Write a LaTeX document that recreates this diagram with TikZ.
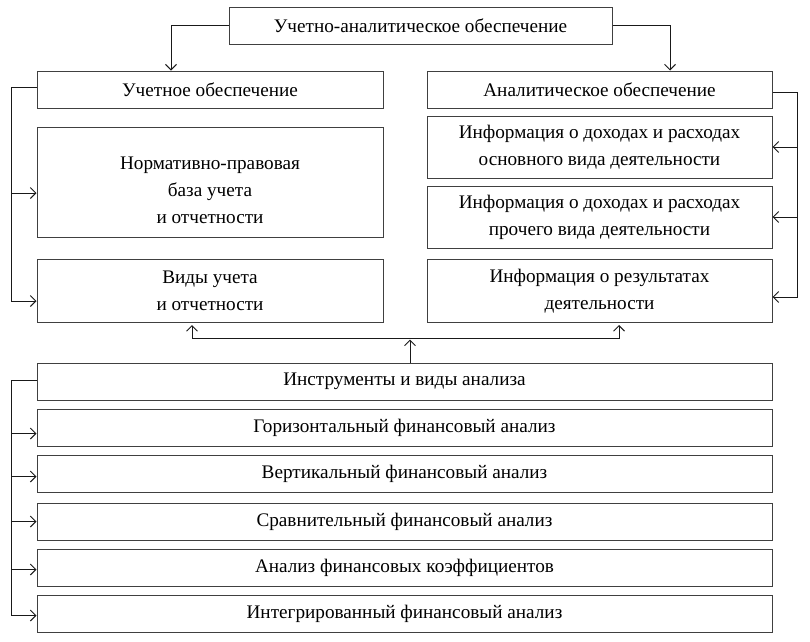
\documentclass[tikz,border=0pt]{standalone}
\usepackage{fontspec}
\setmainfont{Liberation Serif}
\usetikzlibrary{arrows.meta,calc}
\begin{document}
\begin{tikzpicture}[x=1pt,y=-1pt,
  box/.style={draw=black!75, line width=1pt, rectangle, inner sep=2pt,
    align=center, font=\fontsize{19.2}{27}\selectfont, text=black},
  txt/.style={align=center, font=\fontsize{19.2}{27}\selectfont, text=black, inner sep=0pt},
  conn/.style={line width=1pt, draw=black!90},
  arr/.style={conn, -{Straight Barb[length=5.5pt,width=11pt,line width=1pt]}}]
\useasboundingbox (0,0) rectangle (810,641);
\fill[white] (0,0) rectangle (810,641);
% top
\node[box, minimum width=383pt, minimum height=37pt] (top) at (420.5,25.5) {Учетно-аналитическое обеспечение};
\node[box, minimum width=346pt, minimum height=37pt] (uch) at (210,89.5) {Учетное обеспечение};
\node[box, minimum width=345pt, minimum height=37pt] (ana) at (599.5,89.5) {Аналитическое обеспечение};
\node[box, minimum width=346pt, minimum height=110pt] (norm) at (210,182.5) {};
\node[txt] (normtxt) at ($(norm.center)+(0,8)$) {Нормативно-правовая\\база учета\\и отчетности};
\node[box, minimum width=346pt, minimum height=63pt] (vidy) at (210,291) {Виды учета\\и отчетности};
\node[box, minimum width=345pt, minimum height=62pt] (inf1) at (599.5,147) {Информация о доходах и расходах\\основного вида деятельности};
\node[box, minimum width=345pt, minimum height=62pt] (inf2) at (599.5,217) {Информация о доходах и расходах\\прочего вида деятельности};
\node[box, minimum width=345pt, minimum height=63pt] (inf3) at (599.5,291) {Информация о результатах\\деятельности};
% bottom
\node[box, minimum width=735pt, minimum height=37pt] (instr) at (404.5,381.5) {Инструменты и виды анализа};
\node[box, minimum width=735pt, minimum height=37pt] (gor) at (404.5,427.5) {Горизонтальный финансовый анализ};
\node[box, minimum width=735pt, minimum height=37pt] (vert) at (404.5,473.5) {Вертикальный финансовый анализ};
\node[box, minimum width=735pt, minimum height=37pt] (srav) at (404.5,521.5) {Сравнительный финансовый анализ};
\node[box, minimum width=735pt, minimum height=37pt] (koef) at (404.5,567.5) {Анализ финансовых коэффициентов};
\node[box, minimum width=735pt, minimum height=37pt] (integ) at (404.5,613.5) {Интегрированный финансовый анализ};
% top connectors
\draw[arr] (top.west) -| ([xshift=-39pt]uch.north);
\draw[arr] (top.east) -| ([xshift=70.5pt]ana.north);
% left chain
\coordinate (L0) at ($(uch.west)+(-25,-2.5)$);
\draw[conn] ([yshift=2.5pt]uch.west) -- (L0);
\draw[arr] (L0) |- ([yshift=-10.5pt]norm.west);
\draw[arr] (L0) |- ([yshift=-10pt]vidy.west);
% right chain
\coordinate (R0) at ($(ana.east)+(25,2.5)$);
\draw[conn] ([yshift=-2.5pt]ana.east) -- (R0);
\draw[arr] (R0) |- (inf1.east);
\draw[arr] (R0) |- (inf2.east);
\draw[arr] (R0) |- ([yshift=-6pt]inf3.east);
% bottom to middle
\coordinate (M) at ($(instr.north)+(5.5,-24)$);
\draw[arr] ([xshift=5.5pt]instr.north) -- ([yshift=-1pt]M);
\draw[conn] ([xshift=-18pt]vidy.south |- M) -- ([xshift=19.5pt]inf3.south |- M);
\draw[arr] ([xshift=-18pt]vidy.south |- M) -- ([xshift=-18pt,yshift=-2pt]vidy.south);
\draw[arr] ([xshift=19.5pt]inf3.south |- M) -- ([xshift=19.5pt,yshift=-2pt]inf3.south);
% bottom left chain
\coordinate (B0) at ($(instr.west)+(-25,-1.5)$);
\draw[conn] ([yshift=1.5pt]instr.west) -- (B0);
\draw[arr] (B0) |- ([yshift=-6pt]gor.west);
\draw[arr] (B0) |- ([yshift=-3pt]vert.west);
\draw[arr] (B0) |- (srav.west);
\draw[arr] (B0) |- ([yshift=-2pt]koef.west);
\draw[arr] (B0) |- ([yshift=-2pt]integ.west);
\end{tikzpicture}
\end{document}
